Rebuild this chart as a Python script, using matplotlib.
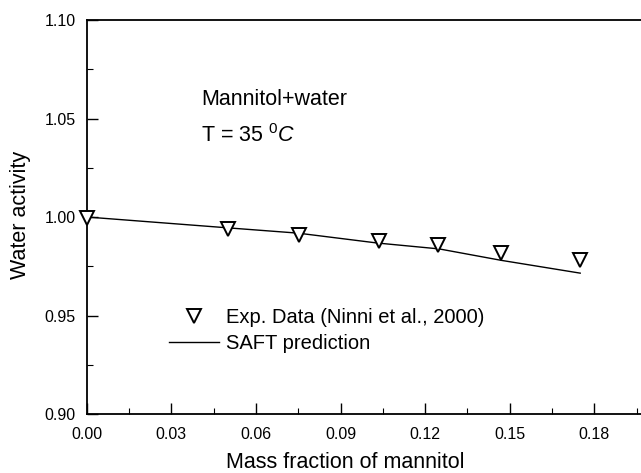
import matplotlib
matplotlib.use("Agg")
import matplotlib.pyplot as plt
from matplotlib.ticker import MultipleLocator, FormatStrFormatter

plt.rcParams['font.family'] = ['Liberation Sans', 'DejaVu Sans']
plt.rcParams['mathtext.fontset'] = 'custom'
plt.rcParams['mathtext.rm'] = 'Liberation Sans'
plt.rcParams['mathtext.it'] = 'Liberation Sans:italic'

# Experimental data
exp_x = [0.0, 0.050, 0.0752, 0.1035, 0.1247, 0.1470, 0.1748]
exp_y = [0.9995, 0.9938, 0.9907, 0.9878, 0.9858, 0.9815, 0.9782]

# SAFT prediction
saft_x = [0.0, 0.050, 0.075, 0.103, 0.125, 0.147, 0.175]
saft_y = [1.000, 0.9945, 0.9918, 0.9868, 0.9838, 0.9780, 0.9715]

fig = plt.figure(figsize=(6.41, 4.73), dpi=100)
ax = fig.add_axes([86.7/641, 59/473, 564/641, 394/473])

ax.plot(exp_x, exp_y, linestyle='none', marker='v', markersize=10,
        markerfacecolor='white', markeredgecolor='black', markeredgewidth=1.4,
        label='Exp. Data (Ninni et al., 2000)', zorder=3, clip_on=False)
ax.plot(saft_x, saft_y, color='black', linewidth=1.0, label='SAFT prediction', zorder=2)

ax.set_xlim(0, 0.2)
ax.set_ylim(0.90, 1.10)
ax.xaxis.set_major_locator(MultipleLocator(0.03))
ax.xaxis.set_minor_locator(MultipleLocator(0.015))
ax.yaxis.set_major_locator(MultipleLocator(0.05))
ax.yaxis.set_minor_locator(MultipleLocator(0.025))
ax.xaxis.set_major_formatter(FormatStrFormatter('%.2f'))
ax.yaxis.set_major_formatter(FormatStrFormatter('%.2f'))
ax.tick_params(which='major', direction='in', length=8, width=1.0, labelsize=11.5)
ax.tick_params(axis='x', which='major', pad=9)
ax.tick_params(axis='y', which='major', pad=8)
ax.tick_params(which='minor', direction='in', length=4, width=0.8)
ax.tick_params(top=False, right=False, which='both')
for s in ['left', 'bottom', 'top']:
    ax.spines[s].set_linewidth(1.3)
ax.spines['right'].set_visible(False)

ax.set_xlabel('Mass fraction of mannitol', fontsize=15.5)
ax.set_ylabel('Water activity', fontsize=15.5)
ax.xaxis.set_label_coords((345 - 86.7) / 564, -(462 - 414) / 394)
ax.yaxis.set_label_coords(-(86.7 - 20.5) / 564, (414 - 214.5) / 394)
ax.xaxis.label.set_va('center')
ax.yaxis.label.set_va('center')

ax.text(0.0405, 1.0569, 'Mannitol+water', fontsize=15.5)
ax.text(0.0405, 1.0382, r'T = 35 $^{0}\mathit{C}$', fontsize=15.5)

ax.legend(loc='upper left', bbox_to_anchor=(0.131, 0.2886), frameon=False,
          fontsize=14.5, handlelength=2.48, handletextpad=0.35, labelspacing=0.35,
          borderaxespad=0)

fig.savefig('out.png', dpi=100)
